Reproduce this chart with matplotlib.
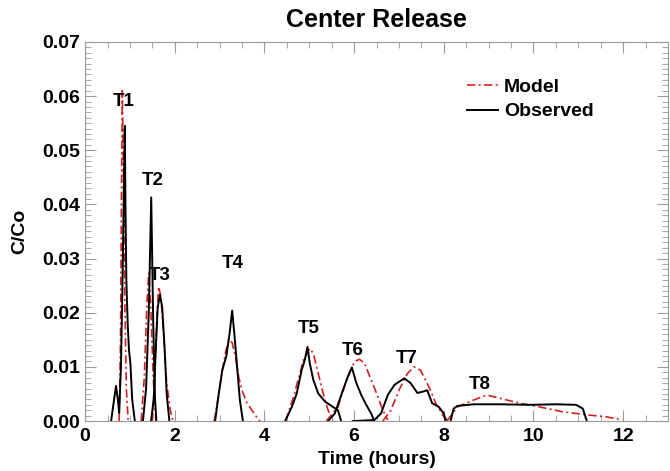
import matplotlib
matplotlib.use("Agg")
import matplotlib.pyplot as plt
import numpy as np

plt.rcParams['font.family'] = ['Liberation Sans', 'DejaVu Sans']
plt.rcParams['font.weight'] = 'bold'

# observed breakthrough curves, one segment per tracer (time in hours, C/Co)
obs_time = [
    [0.58, 0.63, 0.69, 0.73, 0.76, 0.80, 0.83, 0.86, 0.885, 0.90, 0.92, 0.95, 0.98, 1.01, 1.05, 1.11],
    [1.29, 1.36, 1.42, 1.475, 1.52, 1.56, 1.59],
    [1.47, 1.53, 1.58, 1.62, 1.67, 1.72, 1.77, 1.82, 1.88],
    [2.90, 2.98, 3.06, 3.15, 3.22, 3.28, 3.33, 3.38, 3.45, 3.52],
    [4.46, 4.61, 4.72, 4.83, 4.90, 4.96, 5.01, 5.09, 5.20, 5.35, 5.53, 5.64, 5.71],
    [5.42, 5.57, 5.75, 5.86, 5.95, 6.05, 6.16, 6.27, 6.38, 6.45],
    [5.97, 6.45, 6.60, 6.75, 6.90, 7.12, 7.26, 7.41, 7.52, 7.63, 7.74, 7.89, 8.00, 8.04],
    [8.15, 8.22, 8.30, 8.67, 9.25, 9.92, 10.51, 10.95, 11.10, 11.19],
]
obs_conc = [
    [0, 0.003, 0.0065, 0.004, 0.0015, 0.010, 0.0237, 0.040, 0.0545, 0.040, 0.026, 0.018, 0.013, 0.0107, 0.004, 0],
    [0, 0.006, 0.020, 0.0413, 0.018, 0.004, 0],
    [0, 0.004, 0.014, 0.021, 0.0233, 0.021, 0.014, 0.005, 0],
    [0, 0.005, 0.0094, 0.012, 0.016, 0.0204, 0.016, 0.011, 0.004, 0],
    [0, 0.0026, 0.0051, 0.0094, 0.0113, 0.0137, 0.0107, 0.0076, 0.0051, 0.0036, 0.0026, 0.002, 0],
    [0, 0.0014, 0.0057, 0.0082, 0.0099, 0.007, 0.0048, 0.003, 0.0014, 0],
    [0, 0.0002, 0.0014, 0.0048, 0.0067, 0.0079, 0.007, 0.0052, 0.0054, 0.0057, 0.0033, 0.0026, 0.0014, 0],
    [0, 0.0023, 0.0028, 0.0031, 0.0031, 0.003, 0.0031, 0.003, 0.0023, 0],
]

# model curves
mod_time = [
    [0.76, 0.79, 0.81, 0.83, 0.85, 0.88, 0.92, 0.96],
    [1.25, 1.32, 1.38, 1.42, 1.46, 1.52, 1.58],
    [1.50, 1.55, 1.60, 1.64, 1.69, 1.75, 1.82, 1.90, 1.96],
    [2.88, 2.98, 3.06, 3.14, 3.21, 3.28, 3.36, 3.43, 3.50, 3.60, 3.72, 3.82, 3.90],
    [4.47, 4.65, 4.87, 5.01, 5.09, 5.20, 5.31, 5.42, 5.53],
    [5.38, 5.64, 5.83, 6.01, 6.12, 6.23, 6.38, 6.53, 6.64, 6.75],
    [6.64, 6.82, 7.00, 7.19, 7.34, 7.48, 7.67, 7.82, 8.00, 8.11],
    [8.07, 8.30, 8.67, 8.96, 9.25, 9.70, 10.14, 10.66, 11.25, 11.62, 11.98],
]
mod_conc = [
    [0, 0.015, 0.040, 0.061, 0.050, 0.025, 0.006, 0],
    [0, 0.008, 0.022, 0.0273, 0.022, 0.008, 0],
    [0, 0.007, 0.019, 0.0248, 0.023, 0.016, 0.007, 0.002, 0],
    [0, 0.005, 0.0094, 0.013, 0.015, 0.0145, 0.0115, 0.008, 0.0057, 0.0035, 0.002, 0.0008, 0],
    [0, 0.0045, 0.0113, 0.0134, 0.0125, 0.0088, 0.0051, 0.002, 0],
    [0, 0.0026, 0.0076, 0.011, 0.0114, 0.0107, 0.0076, 0.0045, 0.002, 0.0002],
    [0, 0.002, 0.0057, 0.0088, 0.010, 0.0094, 0.0063, 0.0033, 0.0008, 0],
    [0, 0.0026, 0.0039, 0.0048, 0.0042, 0.0033, 0.0026, 0.0017, 0.0011, 0.0008, 0.0002],
]

tracer_labels = ["T1", "T2", "T3", "T4", "T5", "T6", "T7", "T8"]
label_x = [0.86, 1.50, 1.66, 3.30, 4.98, 5.97, 7.17, 8.80]
label_y = [0.059, 0.0444, 0.0268, 0.029, 0.017, 0.0131, 0.0116, 0.0067]

fig = plt.figure(figsize=(6.7, 4.71), dpi=100)
ax = fig.add_axes([0.127, 0.106, 0.870, 0.805])

for i in range(len(mod_time)):
    ax.plot(mod_time[i], mod_conc[i], color='#d42020', lw=1.2,
            dashes=(5, 2, 1.2, 2), label='Model' if i == 0 else None)
for i in range(len(obs_time)):
    ax.plot(obs_time[i], obs_conc[i], color='black', lw=1.4,
            label='Observed' if i == 0 else None)

for lab, x, y in zip(tracer_labels, label_x, label_y):
    ax.text(x, y, lab, ha='center', va='center', fontsize=13.5, fontweight='bold')

ax.set_xlim(0, 13)
ax.set_ylim(0, 0.07)
ax.set_xticks([0, 2, 4, 6, 8, 10, 12])
ax.set_xticks(np.arange(0, 13.01, 0.5), minor=True)
ax.set_yticks(np.arange(0, 0.0701, 0.01))
ax.set_yticks(np.arange(0, 0.0701, 0.001), minor=True)
ax.set_yticklabels(["%.2f" % v for v in np.arange(0, 0.0701, 0.01)])

ax.tick_params(which='both', direction='in', top=True, right=True, colors='#999999',
               labelcolor='black', labelsize=14)
ax.tick_params(which='major', length=8, width=0.8)
ax.tick_params(which='minor', length=4, width=0.6)
ax.tick_params(axis='x', which='major', pad=5)
for s in ax.spines.values():
    s.set_color('#999999')
    s.set_linewidth(0.8)

ax.set_title("Center Release", fontsize=18, fontweight='bold', pad=11)
ax.set_xlabel("Time (hours)", fontsize=14, fontweight='bold', labelpad=4)
ax.set_ylabel("C/Co", fontsize=14, fontweight='bold', labelpad=10)

ax.legend(loc='upper left', bbox_to_anchor=(0.625, 0.95), frameon=False, fontsize=14,
          handlelength=1.6, handletextpad=0.3, labelspacing=0.35)

fig.savefig("out.png", dpi=100)
